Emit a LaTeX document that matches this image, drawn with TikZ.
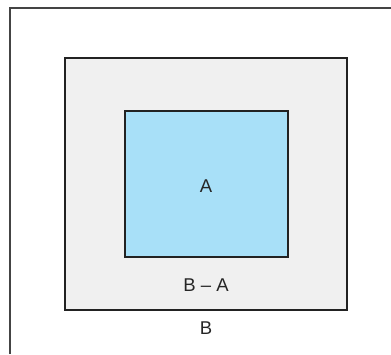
\documentclass[tikz,border=0pt]{standalone}
\usepackage{fontspec}
\setmainfont{Liberation Sans}
\definecolor{setA}{HTML}{A8E0F8}
\definecolor{setB}{HTML}{F0F0F0}
\definecolor{edge}{HTML}{222222}
\definecolor{frame}{HTML}{444444}
\begin{document}
\begin{tikzpicture}[x=1pt,y=-1pt,
  region/.style={draw=edge, inner sep=0pt, outer sep=0pt},
  lbl/.style={font=\fontsize{18.5}{22}\selectfont, text=black!85, inner sep=0pt}]
\useasboundingbox (0,0) rectangle (391,354);
\coordinate (fbl) at (10,354);
\coordinate (ftl) at (10,8);
\coordinate (ftr) at (391,8);
\draw[frame, line width=1.5pt] (fbl) -- (ftl) -- (ftr);
\node[region, fill=setB, line width=2pt, minimum width=282pt, minimum height=252pt] (B) at (206,184) {};
\node[region, fill=setA, line width=1.6pt, minimum width=163pt, minimum height=146pt] (A) at (206.5,184) {};
\node[lbl] (la) at (206,186) {A};
\node[lbl] (lba) at (206,285) {B – A};
\node[lbl] (lb) at (206,328) {B};
\end{tikzpicture}
\end{document}
